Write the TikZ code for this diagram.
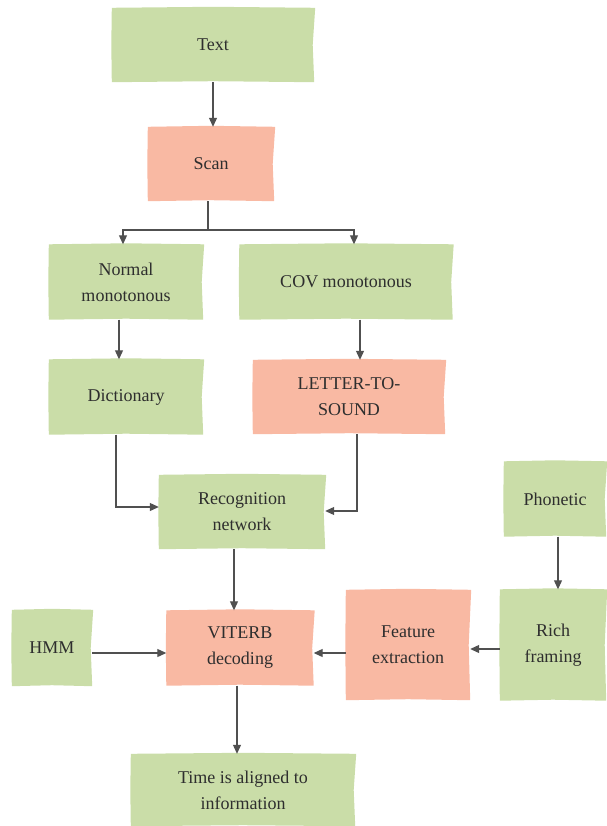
\documentclass[tikz,border=0pt]{standalone}
\usepackage{fontspec}
\setmainfont{Liberation Serif}
\usetikzlibrary{arrows.meta,calc,backgrounds}
\definecolor{notegreen}{HTML}{CADDA8}
\definecolor{notesalmon}{HTML}{F9B9A3}
\definecolor{linkgray}{HTML}{505050}
\definecolor{inkgray}{HTML}{2E2E2E}
\tikzset{
  note/.style={inner sep=0pt, align=center, text=inkgray,
    font=\fontsize{18}{26}\selectfont},
  link/.style={draw=linkgray, line width=1.1pt,
    -{Triangle[length=9pt,width=8pt]}},
}
% paper-note fill behind a node, with slightly uneven edges
\newcommand{\stickynote}[2]{%
  \fill[#2] ($(#1.north west)+(0,0)$) -- ($(#1.north)+(0,-1)$) --
    ($(#1.north east)+(1,0)$) -- ($(#1.east)+(-1.5,0)$) --
    ($(#1.south east)+(0,0)$) -- ($(#1.south)+(0,-1)$) --
    ($(#1.south west)+(0,0)$) -- ($(#1.west)+(-0.5,0)$) -- cycle;}
\begin{document}
\begin{tikzpicture}[x=1pt,y=-1pt]
\useasboundingbox (0,0) rectangle (606,826);

\node[note, minimum width=202pt, minimum height=74pt] (text) at (213,45) {Text};
\node[note, minimum width=126pt, minimum height=74pt] (scan) at (211,164) {Scan};
\node[note, minimum width=154pt, minimum height=75pt] (normal) at (126,282) {Normal\\monotonous};
\node[note, minimum width=213pt, minimum height=75pt] (cov) at (346,282) {COV monotonous};
\node[note, minimum width=154pt, minimum height=75pt] (dict) at (126,397) {Dictionary};
\node[note, minimum width=192pt, minimum height=74pt] (lts) at (349,397) {LETTER-TO-\\SOUND};
\node[note, minimum width=166pt, minimum height=74pt] (recog) at (242,512) {Recognition\\network};
\node[note, minimum width=102pt, minimum height=75pt] (phon) at (555,499) {Phonetic};
\node[note, minimum width=80pt, minimum height=76pt] (hmm) at (52,648) {HMM};
\node[note, minimum width=147pt, minimum height=75pt] (viterb) at (240,648) {VITERB\\decoding};
\node[note, minimum width=124pt, minimum height=110pt] (feat) at (408,645) {Feature\\extraction};
\node[note, minimum width=106pt, minimum height=111pt] (rich) at (553,645) {Rich\\framing};
\node[note, minimum width=224pt, minimum height=72pt] (time) at (243,790) {Time is aligned to\\information};

\begin{scope}[on background layer]
  \foreach \n in {text,normal,cov,dict,recog,phon,hmm,rich,time}
    {\stickynote{\n}{notegreen}}
  \foreach \n in {scan,lts,viterb,feat}
    {\stickynote{\n}{notesalmon}}
\end{scope}

% branch point below Scan
\coordinate (split) at (208,230);

\draw[link] (text.south -| 213,0) -- (scan.north -| 213,0);
\draw[link] (scan.south -| split) -- (split) -| (normal.north -| 123,0);
\draw[link] (split) -| (cov.north -| 354,0);
\draw[link] (normal.south -| 119,0) -- (dict.north -| 119,0);
\draw[link] (cov.south -| 360,0) -- (lts.north -| 360,0);
\draw[link] (dict.south -| 116,0) |- (recog.west |- 0,507);
\draw[link] (lts.south -| 357,0) |- (recog.east |- 0,511);
\draw[link] (recog.south -| 234,0) -- (viterb.north -| 234,0);
\draw[link] (phon.south -| 558,0) -- (rich.north -| 558,0);
\draw[link] (hmm.east |- 0,653) -- (viterb.west |- 0,653);
\draw[link] (feat.west |- 0,653) -- (viterb.east |- 0,653);
\draw[link] (rich.west |- 0,649) -- (feat.east |- 0,649);
\draw[link] (viterb.south -| 237,0) -- (time.north -| 237,0);
\end{tikzpicture}
\end{document}
